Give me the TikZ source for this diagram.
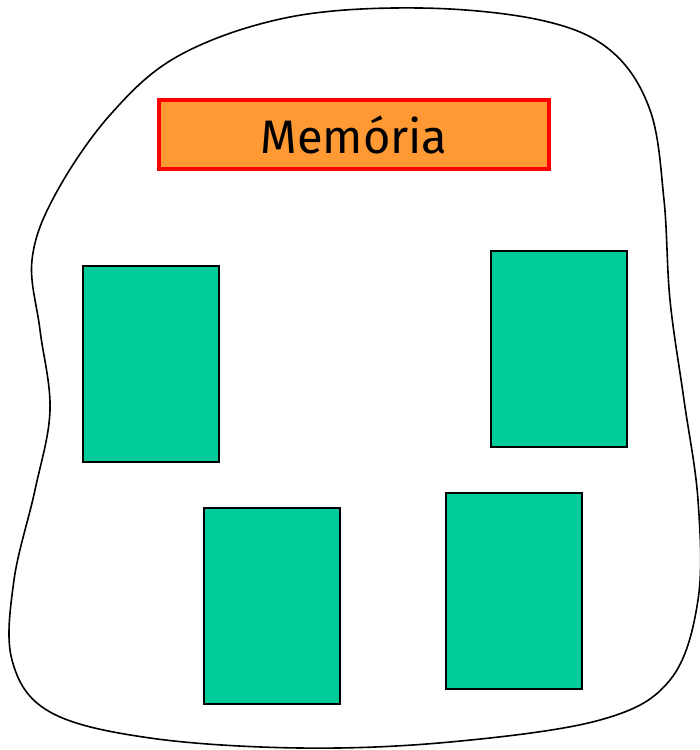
\documentclass[tikz,border=0pt]{standalone}
\usepackage{fontspec}
\setmainfont{Fira Sans}
\definecolor{boxgreen}{HTML}{00CC99}
\definecolor{titleorange}{HTML}{FF9933}
\definecolor{titlered}{HTML}{FF0000}
\begin{document}
\begin{tikzpicture}[x=1pt,y=-1pt,
  block/.style={draw=black,line width=1.5pt,fill=boxgreen,minimum width=136pt,minimum height=196pt,inner sep=0pt,anchor=north west},
  titlebox/.style={draw=titlered,line width=4pt,fill=titleorange,minimum width=390pt,minimum height=69pt,inner sep=0pt,font=\fontsize{47}{56}\selectfont}]
\useasboundingbox (0,0) rectangle (700,750);
\draw[line width=1.6pt] plot[smooth cycle,tension=0.6] coordinates {
  (420,8) (540,20) (610,50) (650,110) (664,200) (670,300) (684,400) (698,500)
  (698,600) (670,680) (600,720) (450,742) (300,748) (150,738) (50,712) (12,660)
  (14,580) (35,490) (50,410) (40,330) (32,260) (55,195) (110,115) (180,55) (290,17)};
\node[titlebox] (title) at (354,134.5) {Memória};
\node[block] (b1) at (82,265) {};
\node[block] (b2) at (490,250) {};
\node[block] (b3) at (203,507) {};
\node[block] (b4) at (445,492) {};
\end{tikzpicture}
\end{document}
